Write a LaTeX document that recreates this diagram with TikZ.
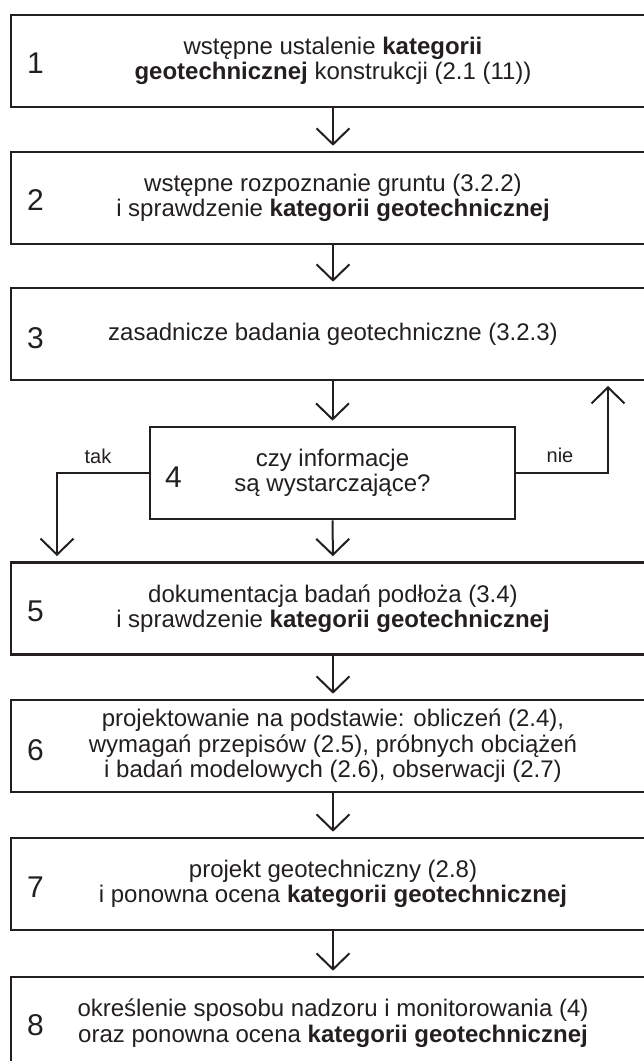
\documentclass[tikz,border=0pt]{standalone}
\usepackage{fontspec}
\setmainfont{Liberation Sans}
\usetikzlibrary{arrows.meta,calc}
\definecolor{ink}{HTML}{231F20}
\tikzset{
  box/.style={draw=ink, line width=2.6pt, minimum width=644pt, minimum height=92pt,
    inner sep=0pt, align=center, text=ink,
    font=\fontsize{24}{25.5}\selectfont},
  qbox/.style={box, minimum width=365pt},
  num/.style={anchor=base west, inner sep=0pt, text=ink, font=\fontsize{30}{30}\selectfont},
  lab/.style={anchor=base, inner sep=0pt, text=ink, font=\fontsize{20}{20}\selectfont},
  arr/.style={draw=ink, line width=2pt, shorten >=5pt,
    -{Straight Barb[length=16pt,width=33pt,line width=2pt]}}
}
\begin{document}
\begin{tikzpicture}[x=1pt,y=-1pt]
\useasboundingbox (0,0) rectangle (644,1061);
\clip (0,0) rectangle (644,1061);
\fill[white] (0,0) rectangle (644,1061);

\node[box] (b1) at (333,61) {wstępne ustalenie \textbf{kategorii}\\\textbf{geotechnicznej} konstrukcji (2.1 (11))};
\node[box] (b2) at (333,198) {wstępne rozpoznanie gruntu (3.2.2)\\i sprawdzenie \textbf{kategorii geotechnicznej}};
\node[box] (b3) at (333,334) {zasadnicze badania geotechniczne (3.2.3)};
\node[qbox] (b4) at (332.5,473) {czy informacje\\są wystarczające?};
\node[box] (b5) at (333,608.5) {dokumentacja badań podłoża (3.4)\\i sprawdzenie \textbf{kategorii geotechnicznej}};
\node[box] (b6) at (333,746) {projektowanie na podstawie: obliczeń (2.4),\\wymagań przepisów (2.5), próbnych obciążeń\\i badań modelowych (2.6), obserwacji (2.7)};
\node[box] (b7) at (333,884) {projekt geotechniczny (2.8)\\i ponowna ocena \textbf{kategorii geotechnicznej}};
\node[box] (b8) at (333,1023) {określenie sposobu nadzoru i monitorowania (4)\\oraz ponowna ocena \textbf{kategorii geotechnicznej}};

\node[num] (n1) at (27,73) {1};
\node[num] (n2) at (27,210.5) {2};
\node[num] (n3) at (27,348) {3};
\node[num] (n4) at (165,487) {4};
\node[num] (n5) at (27,621.5) {5};
\node[num] (n6) at (27,760) {6};
\node[num] (n7) at (27,897) {7};
\node[num] (n8) at (27,1035) {8};

\draw[arr] (b1) -- (b2);
\draw[arr] (b2) -- (b3);
\draw[arr] (b3.south -| b4.north) -- (b4.north);
\draw[arr] (b4) -- (b5);
\draw[arr] (b5) -- (b6);
\draw[arr] (b6) -- (b7);
\draw[arr] (b7) -- (b8);

\coordinate (nieTop) at (608,379);
\coordinate (takBot) at (57,563);
\draw[arr, shorten >=7pt] (b4.east) -| (nieTop);
\draw[arr, shorten >=7pt] (b4.west) -| (takBot);
\node[lab] (tak) at (98,463) {tak};
\node[lab] (nie) at (560,462) {nie};
\end{tikzpicture}
\end{document}
